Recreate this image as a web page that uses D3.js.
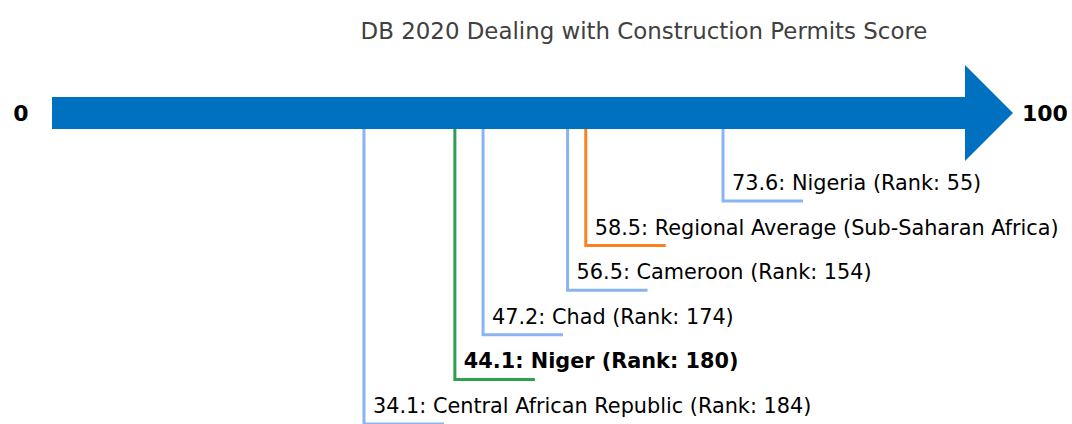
<!DOCTYPE html>
<html>
<head>
<meta charset="utf-8">
<script src="https://cdn.jsdelivr.net/npm/d3@7"></script>
<style>
  body { margin: 0; background: #fff; }
  text { font-family: "DejaVu Sans", sans-serif; }
</style>
</head>
<body>
<div id="chart"></div>
<script>
var svgWidth = 1072;
var svgHeight = 424;

// data
var economies = ["Central African Republic", "Niger", "Chad", "Cameroon", "Regional Average (Sub-Saharan Africa)", "Nigeria"];
var scores = [34.1, 44.1, 47.2, 56.5, 58.5, 73.6];
var ranks = [184, 180, 174, 154, null, 55];
var kinds = ["peer", "focus", "peer", "peer", "region", "peer"];
var axisMin = 0, axisMax = 100;
var title = "DB 2020 Dealing with Construction Permits Score";

var colors = { peer: "#8ab4f0", focus: "#2e9e4f", region: "#fb8020" };

var svg = d3.select("#chart")
  .append("svg")
  .attr("width", svgWidth)
  .attr("height", svgHeight);

var x = d3.scaleLinear()
  .domain([axisMin, axisMax])
  .range([54, 963]);

var arrowY = 113;

// title
svg.append("text")
  .attr("x", 644)
  .attr("y", 39)
  .attr("text-anchor", "middle")
  .attr("fill", "#404040")
  .style("font-size", "22.9px")
  .text(title);

// arrow
var body = [[52, 97], [x(axisMax) + 2, 97], [x(axisMax) + 2, 65], [1013, arrowY], [x(axisMax) + 2, 161], [x(axisMax) + 2, 129], [52, 129]];
svg.append("path")
  .attr("d", d3.line()(body) + "Z")
  .attr("fill", "#0070c0");

svg.append("text")
  .attr("x", 21)
  .attr("y", arrowY)
  .attr("dy", "0.35em")
  .attr("text-anchor", "middle")
  .style("font-size", "22px")
  .style("font-weight", "bold")
  .text(axisMin);

svg.append("text")
  .attr("x", 1022)
  .attr("y", arrowY)
  .attr("dy", "0.35em")
  .style("font-size", "22px")
  .style("font-weight", "bold")
  .text(axisMax);

// callouts, stacked from the bottom
var rows = economies.map(function(name, i) {
  return { name: name, score: scores[i], rank: ranks[i], kind: kinds[i] };
});

var level = d3.scaleLinear().domain([0, rows.length - 1]).range([424, 201]);

var callouts = svg.selectAll(".callout")
  .data(rows)
  .enter()
  .append("g")
  .attr("class", "callout");

callouts.append("path")
  .attr("d", function(d, i) {
    return d3.line()([[x(d.score), 129], [x(d.score), level(i)], [x(d.score) + 80, level(i)]]);
  })
  .attr("fill", "none")
  .attr("stroke", d => colors[d.kind])
  .attr("stroke-width", 3);

callouts.append("text")
  .attr("x", d => x(d.score) + 9)
  .attr("y", (d, i) => level(i) - 11)
  .style("font-size", "20.8px")
  .style("font-weight", d => d.kind === "focus" ? "bold" : "normal")
  .attr("fill", "#000")
  .text(function(d) {
    return d.rank == null
      ? d.score.toFixed(1) + ": " + d.name
      : d.score.toFixed(1) + ": " + d.name + " (Rank: " + d.rank + ")";
  });
</script>
</body>
</html>
